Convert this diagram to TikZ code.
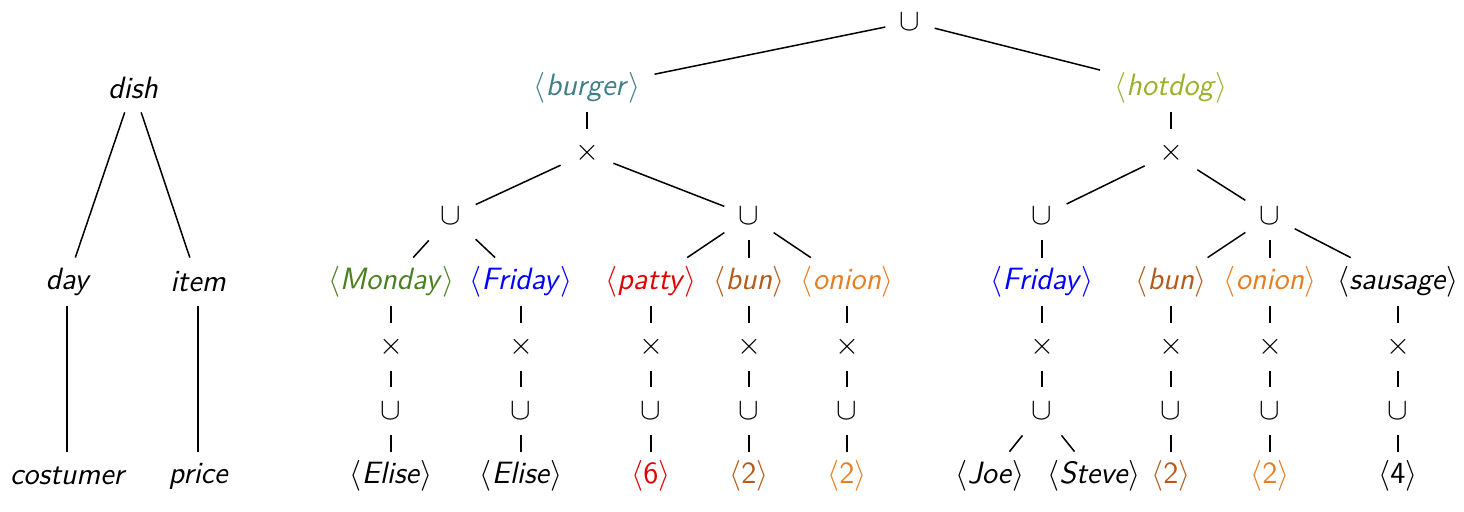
\RequirePackage{fix-cm}
\documentclass[tikz,border=0pt]{standalone}
\definecolor{cburger}{HTML}{3F7F87}
\definecolor{chotdog}{HTML}{9AB22A}
\definecolor{cmonday}{HTML}{4A8021}
\definecolor{cfriday}{HTML}{0000FF}
\definecolor{cpatty}{HTML}{E00000}
\definecolor{cbun}{HTML}{B55A1A}
\definecolor{conion}{HTML}{E67E22}
\newcommand{\tp}[1]{$\langle$\textit{#1}$\rangle$}
\newcommand{\tpn}[1]{$\langle$#1$\rangle$}
\newcommand{\uu}{$\cup$}
\newcommand{\xx}{$\times$}
\begin{document}
\begin{tikzpicture}[x=0.5pt,y=-0.5pt,
  every node/.style={font=\fontsize{15.4}{18}\selectfont\sffamily, inner xsep=7pt, inner ysep=0pt, minimum height=24pt},
  lab/.style={font=\fontsize{15.4}{18}\selectfont\sffamily\itshape},
  edge/.style={draw, line width=0.75pt}]
\useasboundingbox (0,0) rectangle (1464,512);
% left schema tree
\node[lab] (dish) at (133,88) {dish};
\node[lab] (day) at (67,282) {day};
\node[lab] (item) at (198,282) {item};
\node[lab] (cost) at (67,476) {costumer};
\node[lab] (price) at (198,476) {price};
\path[edge] (dish) -- (day);
\path[edge] (dish) -- (item);
\path[edge] (day) -- (cost);
\path[edge] (item) -- (price);
% right tree
\node (root) at (910,22) {\uu};
\node[text=cburger] (burger) at (587,88) {\tp{burger}};
\node[text=chotdog] (hotdog) at (1171,88) {\tp{hotdog}};
\node (xb) at (587,153) {\xx};
\node (xh) at (1171,153) {\xx};
\node (u1) at (451,216) {\uu};
\node (u2) at (749,216) {\uu};
\node (u3) at (1042,216) {\uu};
\node (u4) at (1270,216) {\uu};
% level 4
\node[text=cmonday] (mon) at (391,282) {\tp{Monday}};
\node[text=cfriday] (fri) at (521,282) {\tp{Friday}};
\node[text=cpatty] (pat) at (651,282) {\tp{patty}};
\node[text=cbun] (bun) at (749,282) {\tp{bun}};
\node[text=conion] (oni) at (847,282) {\tp{onion}};
\node[text=cfriday] (frib) at (1042,282) {\tp{Friday}};
\node[text=cbun] (bunb) at (1171,282) {\tp{bun}};
\node[text=conion] (onib) at (1270,282) {\tp{onion}};
\node (sau) at (1398,282) {\tp{sausage}};
% x level
\foreach \n/\xp in {mon/391,fri/521,pat/651,bun/749,oni/847,frib/1042,bunb/1171,onib/1270,sau/1398}{
  \node (x\n) at (\xp,347) {\xx};
  \node (u\n) at (\xp,411) {\uu};
  \path[edge] (\n) -- (x\n);
  \path[edge] (x\n) -- (u\n);
}
% leaves
\node (el1) at (391,476) {\tp{Elise}};
\node (el2) at (521,476) {\tp{Elise}};
\node[text=cpatty] (six) at (651,476) {\tpn{6}};
\node[text=cbun] (twoa) at (749,476) {\tpn{2}};
\node[text=conion] (twob) at (847,476) {\tpn{2}};
\node (joe) at (990,476) {\tp{Joe}};
\node (steve) at (1094,476) {\tp{Steve}};
\node[text=cbun] (twoc) at (1171,476) {\tpn{2}};
\node[text=conion] (twod) at (1270,476) {\tpn{2}};
\node (four) at (1398,476) {\tpn{4}};
% edges
\path[edge] (root) -- (burger);
\path[edge] (root) -- (hotdog);
\path[edge] (burger) -- (xb);
\path[edge] (hotdog) -- (xh);
\path[edge] (xb) -- (u1);
\path[edge] (xb) -- (u2);
\path[edge] (xh) -- (u3);
\path[edge] (xh) -- (u4);
\path[edge] (u1) -- (mon);
\path[edge] (u1) -- (fri);
\path[edge] (u2) -- (pat);
\path[edge] (u2) -- (bun);
\path[edge] (u2) -- (oni);
\path[edge] (u3) -- (frib);
\path[edge] (u4) -- (bunb);
\path[edge] (u4) -- (onib);
\path[edge] (u4) -- (sau);
\path[edge] (umon) -- (el1);
\path[edge] (ufri) -- (el2);
\path[edge] (upat) -- (six);
\path[edge] (ubun) -- (twoa);
\path[edge] (uoni) -- (twob);
\path[edge] (ufrib) -- (joe);
\path[edge] (ufrib) -- (steve);
\path[edge] (ubunb) -- (twoc);
\path[edge] (uonib) -- (twod);
\path[edge] (usau) -- (four);
\end{tikzpicture}
\end{document}
